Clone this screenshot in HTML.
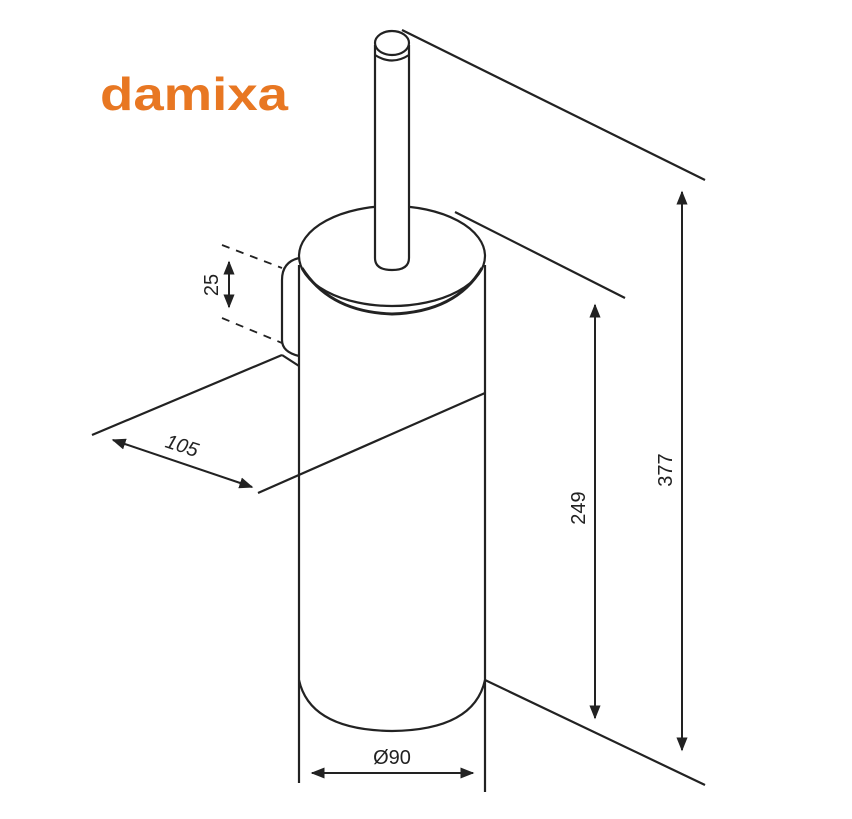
<!DOCTYPE html>
<html><head><style>body{margin:0;background:#fff}svg{display:block}</style></head><body>
<svg width="852" height="819" viewBox="0 0 852 819" xmlns="http://www.w3.org/2000/svg">
<defs><marker id="a" viewBox="0 0 10 10" refX="9" refY="5" markerWidth="7" markerHeight="7" orient="auto-start-reverse"><path d="M0,1 L10,5 L0,9 Z" fill="#222"/></marker></defs>
<text x="100" y="110" font-family="Liberation Sans, sans-serif" font-weight="bold" font-size="46" fill="#e87722" textLength="188" lengthAdjust="spacingAndGlyphs">damixa</text>
<g stroke="#222" stroke-width="2.2" fill="none">
<line x1="402" y1="30" x2="705" y2="180"/>
<line x1="455" y1="212" x2="625" y2="298"/>
<line x1="485" y1="680" x2="705" y2="785"/>
<line x1="258" y1="493" x2="485" y2="393"/>
<line x1="92" y1="435" x2="282" y2="355"/>
<line x1="282" y1="355" x2="299" y2="366"/>
<path d="M299,258 Q282,262 282,280 L282,340 Q282,352 299,356"/>
<line x1="299" y1="265" x2="299" y2="783"/>
<line x1="485" y1="265" x2="485" y2="792"/>
<path d="M299,680 Q310,730 392,731 Q474,730 485,680"/>
<ellipse cx="392" cy="256" rx="93" ry="50" fill="#fff"/>
<path d="M302,268 Q330,312 392,314 Q456,312 482,268" stroke-width="3"/>
<path d="M375,45 L375,258 Q375,270 392,270 Q409,270 409,258 L409,45" fill="#fff"/>
<ellipse cx="392" cy="43" rx="17" ry="12" fill="#fff"/>
<path d="M375,55 Q392,66 409,55"/>
<g stroke-dasharray="8,7" stroke-width="1.8"><line x1="222" y1="245" x2="282" y2="268"/><line x1="222" y1="318" x2="282" y2="343"/></g>
<g stroke-width="2" marker-start="url(#a)" marker-end="url(#a)">
<line x1="229" y1="262" x2="229" y2="307"/>
<line x1="113" y1="440" x2="252" y2="487"/>
<line x1="595" y1="305" x2="595" y2="718"/>
<line x1="682" y1="192" x2="682" y2="750"/>
<line x1="312" y1="773" x2="473" y2="773"/>
</g></g>
<g font-family="Liberation Sans, sans-serif" font-size="20" fill="#222" text-anchor="middle">
<text transform="translate(218,285) rotate(-90)">25</text>
<text transform="translate(180,452) rotate(18)" font-style="italic">105</text>
<text transform="translate(585,508) rotate(-90)">249</text>
<text transform="translate(672,470) rotate(-90)">377</text>
<text x="392" y="764">Ø90</text>
</g>
</svg>
</body></html>
